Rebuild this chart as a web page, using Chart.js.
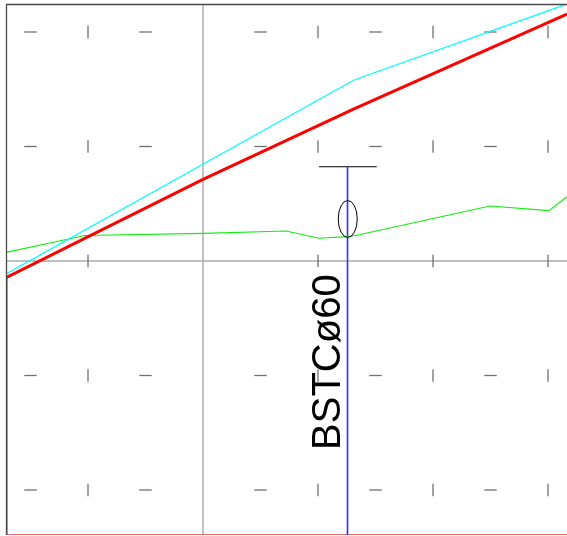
<!DOCTYPE html>
<html>
<head>
<meta charset="utf-8">
<script src="https://cdn.jsdelivr.net/npm/chart.js@4/dist/chart.umd.min.js"></script>
<style>
html,body{margin:0;padding:0;background:#fff;}
#wrap{width:567px;height:536px;}
</style>
</head>
<body>
<div id="wrap"><canvas id="c" width="567" height="536"></canvas></div>
<script>
// Axis ranges (drawing units)
const X_MIN = -3.426, X_MAX = 6.330;
const Y_MIN = -4.786, Y_MAX = 4.489;

// Red design line (goes down the left edge, then rises to the right)
const redX = [-3.426, -3.426, 0, 2.626, 6.330];
const redY = [-4.786, -0.292, 1.424, 2.657, 4.314];

// Cyan line
const cyanX = [-3.426, 2.626, 6.330];
const cyanY = [-0.225, 3.162, 4.489];

// Green line
const greenX = [-3.426, -2.052, 0, 1.443, 2.017, 2.504, 2.696, 4.991, 6.017, 6.330];
const greenY = [0.152, 0.445, 0.484, 0.524, 0.397, 0.424, 0.454, 0.961, 0.879, 1.123];

// Bottom line
const bottomY = -4.777;

// Borehole marker
const boreX = 2.513;
const boreTop = 1.647;
const capX = [2.017, 3.021];
const ellipseC = [2.517, 0.734];
const ellipseR = [0.165, 0.323];
const boreLabel = "BSTCø60";
const labelPos = [2.374, -3.301];

// Cross-mark grid
const hDashX = [-3, -1, 1, 3, 5];
const hDashY = [4, 2, -2, -4];
const vDashX = [-2, 2, 4, 6];
const vDashY = [4, 2, 0, -2, -4];

const zip = (xs, ys) => xs.map((x, i) => ({x: x, y: ys[i]}));
const grid = (xs, ys) => { const p = []; ys.forEach(y => xs.forEach(x => p.push({x, y}))); return p; };

const lineDs = (data, color, width) => ({
  data, showLine: true, borderColor: color, borderWidth: width,
  pointRadius: 0, tension: 0, fill: false
});

const datasets = [
  lineDs(zip(redX, redY), '#ff0000', 3),
  lineDs(zip(cyanX, cyanY), '#00ffff', 1.3),
  lineDs(zip(greenX, greenY), '#11ee11', 1.2),
  lineDs([{x: boreX, y: boreTop}, {x: boreX, y: Y_MIN}], '#3030ff', 1.6),
  lineDs([{x: capX[0], y: boreTop}, {x: capX[1], y: boreTop}], '#000000', 1.1),
  lineDs([{x: X_MIN, y: bottomY}, {x: X_MAX, y: bottomY}], 'rgba(230,60,60,0.75)', 1.2),
  {
    data: grid(hDashX, hDashY), showLine: false, pointStyle: 'line',
    pointRadius: 6.2, pointBorderColor: '#707070', pointBorderWidth: 1.3, pointRotation: 0
  },
  {
    data: grid(vDashX, vDashY), showLine: false, pointStyle: 'line',
    pointRadius: 6.2, pointBorderColor: '#707070', pointBorderWidth: 1.3, pointRotation: 90
  },
  lineDs([{x: X_MIN, y: 0}, {x: X_MAX, y: 0}], '#ababab', 1.6),
  lineDs([{x: 0, y: Y_MIN}, {x: 0, y: Y_MAX}], '#a8a8a8', 1.4)
];

const overlay = {
  id: 'overlay',
  afterDatasetsDraw(chart) {
    const ctx = chart.ctx, xs = chart.scales.x, ys = chart.scales.y;
    // ellipse
    const cx = xs.getPixelForValue(ellipseC[0]), cy = ys.getPixelForValue(ellipseC[1]);
    const rx = xs.getPixelForValue(ellipseC[0] + ellipseR[0]) - cx;
    const ry = cy - ys.getPixelForValue(ellipseC[1] + ellipseR[1]);
    ctx.save();
    ctx.beginPath();
    ctx.ellipse(cx, cy, rx, ry, 0, 0, Math.PI * 2);
    ctx.strokeStyle = '#000';
    ctx.lineWidth = 1;
    ctx.stroke();
    // label
    const lx = xs.getPixelForValue(labelPos[0]), ly = ys.getPixelForValue(labelPos[1]);
    ctx.translate(lx, ly);
    ctx.rotate(-Math.PI / 2);
    ctx.font = '40px "Liberation Sans", Arial, sans-serif';
    ctx.fillStyle = '#000';
    ctx.textAlign = 'left';
    ctx.textBaseline = 'alphabetic';
    ctx.fillText(boreLabel, 0, 0);
    ctx.restore();
  },
  afterDraw(chart) {
    const ctx = chart.ctx, a = chart.chartArea;
    ctx.save();
    ctx.strokeStyle = '#4a4a4a';
    ctx.lineWidth = 1.3;
    ctx.beginPath();
    ctx.moveTo(a.left + 0.5, a.bottom);
    ctx.lineTo(a.left + 0.5, a.top + 0.5);
    ctx.lineTo(a.right, a.top + 0.5);
    ctx.stroke();
    ctx.restore();
  }
};

new Chart(document.getElementById('c'), {
  type: 'scatter',
  data: { datasets },
  options: {
    responsive: false,
    animation: false,
    events: [],
    layout: { autoPadding: false, padding: { left: 6, top: 4, right: 0, bottom: 1 } },
    plugins: { legend: { display: false }, tooltip: { enabled: false } },
    scales: {
      x: { type: 'linear', min: X_MIN, max: X_MAX, display: false },
      y: { type: 'linear', min: Y_MIN, max: Y_MAX, display: false }
    }
  },
  plugins: [overlay]
});
</script>
</body>
</html>
